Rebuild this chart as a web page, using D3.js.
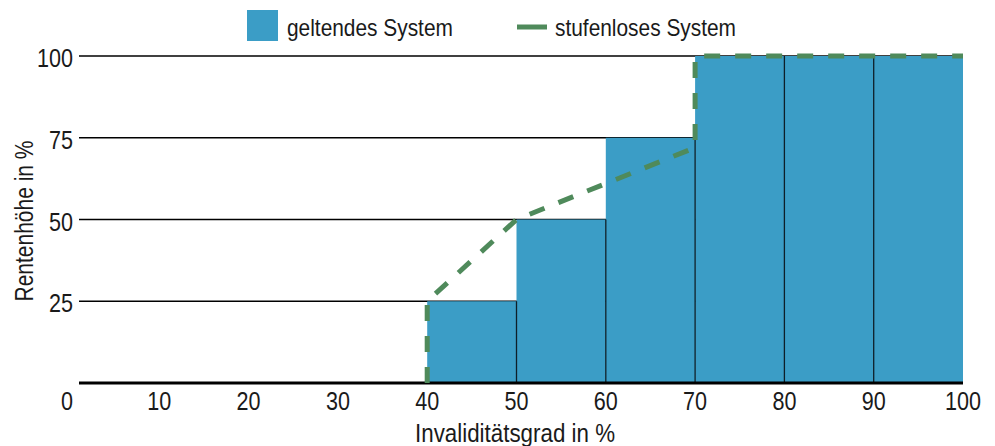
<!DOCTYPE html>
<html>
<head>
<meta charset="utf-8">
<script src="https://cdn.jsdelivr.net/npm/d3@7"></script>
<style>
  body { margin: 0; background: #fff; }
  svg text { font-family: "Liberation Sans", Arial, sans-serif; fill: #1a1a1a; }
</style>
</head>
<body>
<svg id="chart"></svg>
<script>
// Invaliditätsgrad vs Rentenhöhe
const barStarts = [40, 50, 60, 70, 80, 90];
const barValues = [25, 50, 75, 100, 100, 100];
const barWidth = 10;

// stufenloses System
const lineX = [40, 40, 50, 60, 70, 70, 100];
const lineY = [0, 25, 50, 61, 72, 100, 100];

const xTicks = [0, 10, 20, 30, 40, 50, 60, 70, 80, 90, 100];
const yTicks = [25, 50, 75, 100];

const legendLabels = ["geltendes System", "stufenloses System"];

var width = 995;
var height = 446;
const barColor = "#3b9dc6";
const lineColor = "#4f8a5b";

var svg = d3.select("#chart").attr("width", width).attr("height", height);

var x = d3.scaleLinear().domain([0, 100]).range([70, 963]);
var y = d3.scaleLinear().domain([0, 100]).range([383, 56]);
const gridLeft = 79;

// condensed look: squeeze the text horizontally
function label(g, tx, ty, str, size, k, anchor, rot) {
  return g.append("text")
    .attr("transform", `translate(${tx},${ty})` + (rot ? ` rotate(${rot})` : "") + ` scale(${k},1)`)
    .attr("text-anchor", anchor || "start")
    .style("font-size", size + "px")
    .text(str);
}

// gridlines behind the bars
svg.append("g").selectAll("line")
  .data(yTicks)
  .enter().append("line")
    .attr("x1", gridLeft)
    .attr("x2", x(100))
    .attr("y1", d => y(d))
    .attr("y2", d => y(d))
    .attr("stroke", "#000")
    .attr("stroke-width", 1.5);

// bars
svg.append("g").selectAll("rect")
  .data(barStarts)
  .enter().append("rect")
    .attr("x", d => x(d))
    .attr("y", (d, i) => y(barValues[i]))
    .attr("width", d => x(d + barWidth) - x(d))
    .attr("height", (d, i) => y(0) - y(barValues[i]))
    .attr("fill", barColor);

// separators on the right edge of each bar (not the last one)
svg.append("g").selectAll("line")
  .data(barStarts.slice(0, -1))
  .enter().append("line")
    .attr("x1", d => x(d + barWidth))
    .attr("x2", d => x(d + barWidth))
    .attr("y1", (d, i) => y(barValues[i]))
    .attr("y2", y(0))
    .attr("stroke", "#0d1f28")
    .attr("stroke-width", 1.3);

// y labels
var gy = svg.append("g");
yTicks.forEach(d => label(gy, 73, y(d) + 11, d, 26, 0.83, "end"));

// baseline
svg.append("line")
  .attr("x1", gridLeft).attr("x2", x(100))
  .attr("y1", y(0)).attr("y2", y(0))
  .attr("stroke", "#000")
  .attr("stroke-width", 3);

// x labels
var gx = svg.append("g");
xTicks.forEach(d => label(gx, d === 0 ? x(d) - 3 : x(d), 410, d, 26, 0.83, "middle"));

// stufenloses System
var pts = lineX.map((d, i) => [x(d), y(lineY[i])]);
svg.append("path")
  .attr("d", d3.line()(pts))
  .attr("fill", "none")
  .attr("stroke", lineColor)
  .attr("stroke-width", 5)
  .attr("stroke-dasharray", "16,15");

// axis titles
label(svg, 515, 442, "Invaliditätsgrad in %", 26, 0.86, "middle");
label(svg, 33, 221, "Rentenhöhe in %", 25, 0.84, "middle", -90);

// legend
var legend = svg.append("g");
legend.append("rect")
  .attr("x", 247).attr("y", 10)
  .attr("width", 31).attr("height", 31)
  .attr("fill", barColor);
label(legend, 287, 36, legendLabels[0], 24, 0.87);
legend.append("line")
  .attr("x1", 517).attr("x2", 547)
  .attr("y1", 27).attr("y2", 27)
  .attr("stroke", lineColor)
  .attr("stroke-width", 5);
label(legend, 555, 36, legendLabels[1], 24, 0.87);
</script>
</body>
</html>
